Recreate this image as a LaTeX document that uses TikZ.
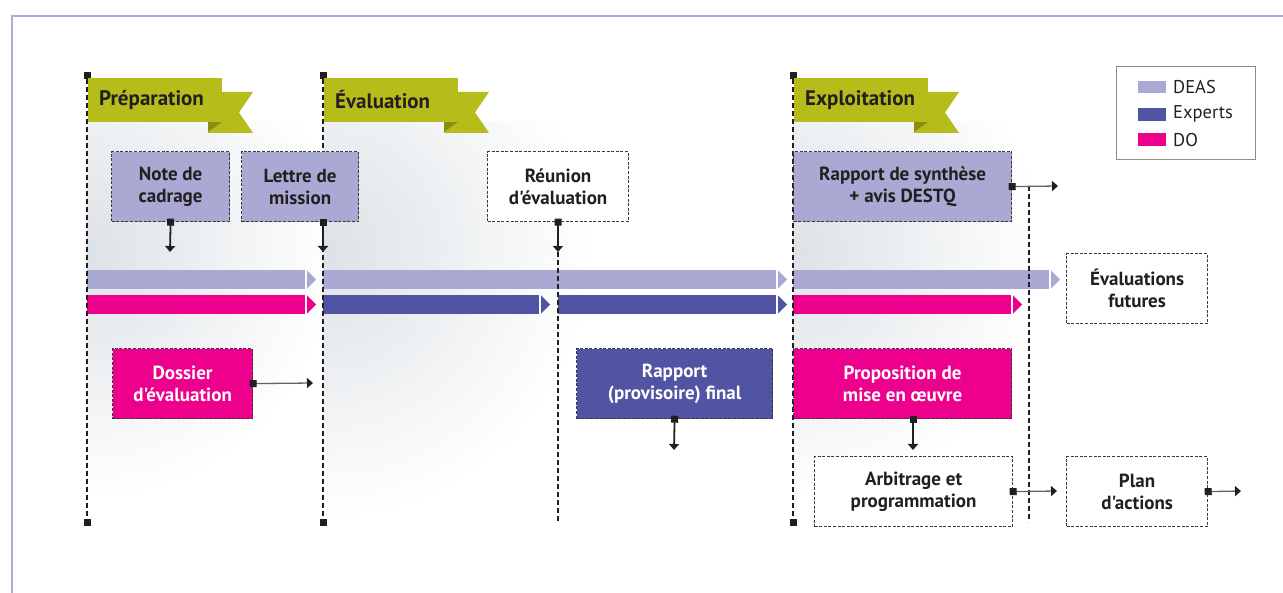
\documentclass[tikz,border=0pt]{standalone}
\usepackage{fontspec}
\setmainfont{PT Sans}[Ligatures=TeXOff]
\usetikzlibrary{arrows.meta}

\definecolor{ink}{HTML}{231F20}
\definecolor{olive}{HTML}{B6BD1A}
\definecolor{olivedark}{HTML}{8A8E14}
\definecolor{lav}{HTML}{AAA9D4}
\definecolor{blu}{HTML}{5054A2}
\definecolor{mag}{HTML}{EC008C}
\definecolor{dashgray}{HTML}{3A3A3A}
\definecolor{framecol}{HTML}{A8ACD8}
\definecolor{haze}{HTML}{DDE2E6}
\definecolor{legendline}{HTML}{8C8C8C}

\newcommand\boxfont{\fontsize{19}{22}\selectfont\bfseries}

% one segment of a timeline bar: colour, start x, end x, top y
\newcommand\barseg[4]{%
  \fill[#1] (#2,#4) rectangle (#3,#4+19);
  \fill[#1] (#3+2,#4+0.5) -- (#3+11,#4+9.5) -- (#3+2,#4+18.5) -- cycle;}

% phase ribbon: left x, label, node name
\newcommand\ribbon[3]{%
  \fill[olive] (#1+121,92) -- (#1+166,92) -- (#1+152,112.5) -- (#1+166,133) -- (#1+121,133) -- cycle;
  \fill[olivedark] (#1+121,122) -- (#1+135,122) -- (#1+121,132) -- cycle;
  \fill[olive] (#1+1,78) rectangle (#1+135,122);
  \node[ribbontext] (#3) at (#1+12,100) {#2};}

\tikzset{
  x=1pt, y=-1pt,
  box/.style={draw=dashgray, dash pattern=on 3pt off 1.6pt, line width=1.2pt,
    minimum height=70pt, inner sep=0pt, align=center, font=\boxfont, text=ink,
    anchor=north west},
  whitetext/.style={text=white},
  ribbontext/.style={anchor=west, font=\fontsize{21}{23}\selectfont\bfseries, text=ink, inner sep=0pt},
  phase/.style={draw=ink, line width=1.6pt, dash pattern=on 5pt off 3pt},
  endsq/.style={{Square[length=7pt,width=7pt]}-{Square[length=7pt,width=7pt]},
    shorten <=-3.5pt, shorten >=-3.5pt},
  vconn/.style={draw=ink, line width=1.8pt,
    {Square[length=7pt,width=7pt]}-{Triangle[length=6pt,width=10pt]}, shorten <=-3.5pt},
  hconn/.style={draw=ink!70, line width=1.3pt,
    {Square[length=7pt,width=7pt,ink]}-{Triangle[length=6pt,width=10pt,ink]}, shorten <=-3.5pt},
  legendtext/.style={anchor=west, font=\fontsize{18.5}{20}\selectfont, text=ink, inner sep=0pt},
}

\begin{document}
\begin{tikzpicture}
\useasboundingbox (0,0) rectangle (1283,593);

% outer frame
\draw[framecol, line width=2pt] (12,593) -- (12,16) -- (1283,16);

% soft haze in each phase column
\begin{scope}
  \clip (87,122) rectangle (323,522);
  \shade[inner color=haze, outer color=white] (87,250) circle (250);
\end{scope}
\begin{scope}
  \clip (323,122) rectangle (793,522);
  \shade[inner color=haze, outer color=white] (323,250) circle (270);
\end{scope}
\begin{scope}
  \clip (793,122) rectangle (1029,522);
  \shade[inner color=haze, outer color=white] (793,250) circle (250);
\end{scope}

% timeline bars
\barseg{lav}{87}{305}{270}
\barseg{lav}{323}{776}{270}
\barseg{lav}{793}{1049}{270}
\barseg{mag}{87}{305}{295}
\barseg{blu}{323}{539}{295}
\barseg{blu}{558}{776}{295}
\barseg{mag}{793}{1011}{295}

% phase boundaries
\coordinate (p1t) at (87,76);   \coordinate (p1b) at (87,522);
\coordinate (p2t) at (323,76);  \coordinate (p2b) at (323,522);
\coordinate (p3b) at (558,522);
\coordinate (p4t) at (793,76);  \coordinate (p4b) at (793,522);
\coordinate (p5t) at (1029,186); \coordinate (p5b) at (1029,522);

\draw[phase, endsq] (p1t) -- (p1b);
\draw[phase, endsq] (p2t) -- (p2b);
\draw[phase, endsq] (p4t) -- (p4b);
\draw[phase] (p5t) -- (p5b);

% phase ribbons
\ribbon{87}{Préparation}{prep}
\ribbon{323}{Évaluation}{eval}
\ribbon{793}{Exploitation}{expl}

% documents
\node[box, fill=lav, minimum width=118pt] (cadrage) at (111,151) {Note de\\cadrage};
\node[box, fill=lav, minimum width=117pt] (lettre) at (241,151) {Lettre de\\mission};
\node[box, fill=white, minimum width=141pt] (reunion) at (487,151) {Réunion\\d'évaluation};
\node[box, fill=lav, minimum width=218pt] (synth) at (793,151) {Rapport de synthèse\\+ avis DESTQ};
\node[box, fill=white, minimum width=141pt] (futures) at (1066,253) {Évaluations\\futures};
\node[box, fill=mag, whitetext, minimum width=140pt] (dossier) at (112,348) {Dossier\\d'évaluation};
\node[box, fill=blu, whitetext, minimum width=196pt] (rapport) at (576,348) {Rapport\\(provisoire) final};
\node[box, fill=mag, whitetext, minimum width=218pt] (propo) at (793,348) {Proposition de\\mise en œuvre};
\node[box, fill=white, minimum width=198pt] (arbit) at (814,456) {Arbitrage et\\programmation};
\node[box, fill=white, minimum width=141pt] (plan) at (1066,456) {Plan\\d'actions};

% connector ends
\coordinate (t1) at (170,252);
\coordinate (t2) at (323,252);
\coordinate (t3) at (558,252);
\coordinate (t4) at (674,450);
\coordinate (t5) at (913,450);
\coordinate (h1) at (313,383);
\coordinate (h2) at (1058,186);
\coordinate (h3) at (1057,491);
\coordinate (h4) at (1241,491);

\draw[phase] (t3) -- (p3b);

\draw[vconn] (cadrage.south) -- (t1);
\draw[vconn] (lettre.south -| t2) -- (t2);
\draw[vconn] (reunion.south) -- (t3);
\draw[vconn] (rapport.south) -- (t4);
\draw[vconn] (propo.south -| t5) -- (t5);

\draw[hconn] (dossier.east) -- (h1);
\draw[hconn] (synth.east) -- (h2);
\draw[hconn] (arbit.east) -- (h3);
\draw[hconn] (plan.east) -- (h4);

% legend
\draw[legendline, line width=1pt] (1116,67) rectangle (1255,160);
\fill[lav] (1138,81) rectangle (1166,93);
\fill[blu] (1138,108) rectangle (1166,121);
\fill[mag] (1138,133) rectangle (1166,146);
\node[legendtext] (lgdeas) at (1173,87) {DEAS};
\node[legendtext] (lgexp) at (1173,114) {Experts};
\node[legendtext] (lgdo) at (1173,140) {DO};
\end{tikzpicture}
\end{document}
